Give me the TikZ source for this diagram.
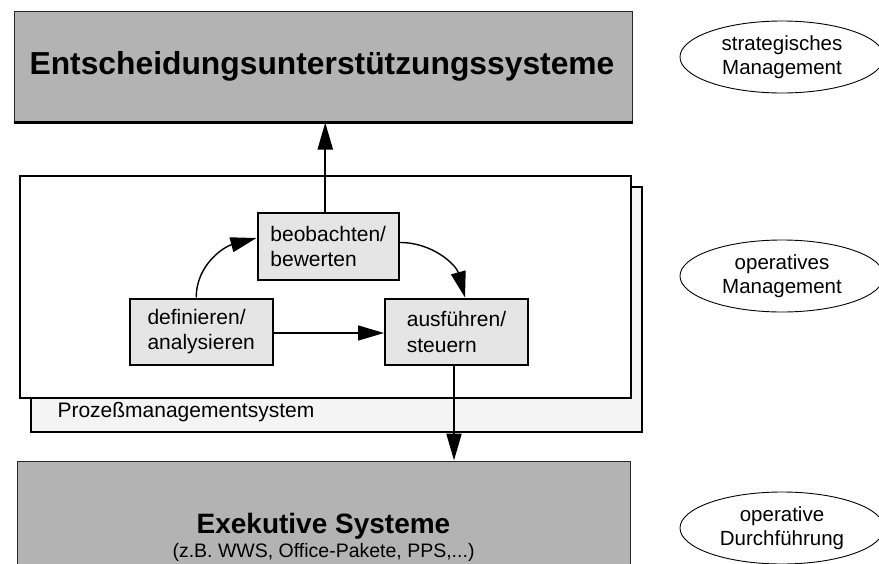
\documentclass[tikz,border=0pt]{standalone}
\usepackage{fontspec}
\setmainfont{Liberation Sans}
\usetikzlibrary{arrows.meta,shapes.geometric}
\definecolor{sysgray}{HTML}{B3B3B3}
\definecolor{taskgray}{HTML}{E5E5E5}
\definecolor{framegray}{HTML}{F4F4F4}
\begin{document}
\begin{tikzpicture}[x=1pt,y=-1pt,
  sysbox/.style={draw=black!85,line width=1pt,fill=sysgray,rectangle,inner sep=0pt},
  frame/.style={draw=black,line width=2pt,rectangle,inner sep=0pt},
  taskbox/.style={draw=black,line width=2pt,fill=taskgray,rectangle,inner sep=0pt,
    align=left,font=\fontsize{21}{25.5}\selectfont},
  level/.style={draw=black,line width=0.9pt,ellipse,inner sep=0pt,
    minimum width=204pt,minimum height=72pt,align=center,
    font=\fontsize{20.5}{24.5}\selectfont},
  bigarrow/.style={line width=2.2pt,-{Triangle[length=27pt,width=15pt]}},
  flow/.style={line width=1.4pt,-{Triangle[length=26pt,width=15pt]}}]
\useasboundingbox (0,0) rectangle (879,563);

% decision support layer
\node[sysbox,minimum width=618pt,minimum height=111pt] (dss) at (323,66.5) {};
\draw[line width=2.4pt] (dss.south west) -- (dss.south east);
\node[font=\bfseries\fontsize{31.8}{38}\selectfont] (dsstext) at (322,66) {Entscheidungsunterstützungssysteme};

% process management system, stacked sheets
\node[frame,fill=framegray,minimum width=611pt,minimum height=245pt] (back) at (336.5,309.5) {};
\node[frame,fill=white,minimum width=611pt,minimum height=221.5pt] (front) at (325.5,286.75) {};
\node[anchor=west,font=\fontsize{21}{25}\selectfont] (pms) at (54,412) {Prozeßmanagementsystem};

% process cycle
\node[taskbox,minimum width=141.5pt,minimum height=67pt] (obs) at (328.25,246.5) {beobachten/\\bewerten};
\node[taskbox,minimum width=143.5pt,minimum height=66.5pt] (def) at (201.25,331.75) {definieren/\\analysieren};
\node[taskbox,minimum width=143pt,minimum height=66.5pt] (exe) at (456.5,331.75) {ausführen/\\steuern};

% executive layer
\node[sysbox,minimum width=613pt,minimum height=140pt] (es) at (323.5,531) {};
\node[font=\bfseries\fontsize{28}{33}\selectfont] (estitle) at (323.5,526) {Exekutive Systeme};
\node[font=\fontsize{19.5}{23}\selectfont] (essub) at (323.5,552.5) {(z.B. WWS, Office-Pakete, PPS,...)};

% management levels
\node[level] (l1) at (782,57) {strategisches\\Management};
\node[level] (l2) at (782,276) {operatives\\Management};
\node[level] (l3) at (782,528) {operative\\Durchführung};

% connectors
\draw[bigarrow] ([xshift=-3pt]obs.north) -- ([xshift=-3pt]obs.north |- dss.south);
\draw[bigarrow] ([xshift=-2.5pt]exe.south) -- ([xshift=-2.5pt]exe.south |- es.north);
\draw[flow] (def.east |- 0,333) -- (exe.west |- 0,333);
\draw[flow] ([xshift=-5pt]def.north) to[out=90,in=195] ([yshift=8.5pt]obs.west);
\draw[flow] ([yshift=4pt]obs.east) to[out=0,in=105] ([xshift=8.5pt]exe.north);
\end{tikzpicture}
\end{document}
